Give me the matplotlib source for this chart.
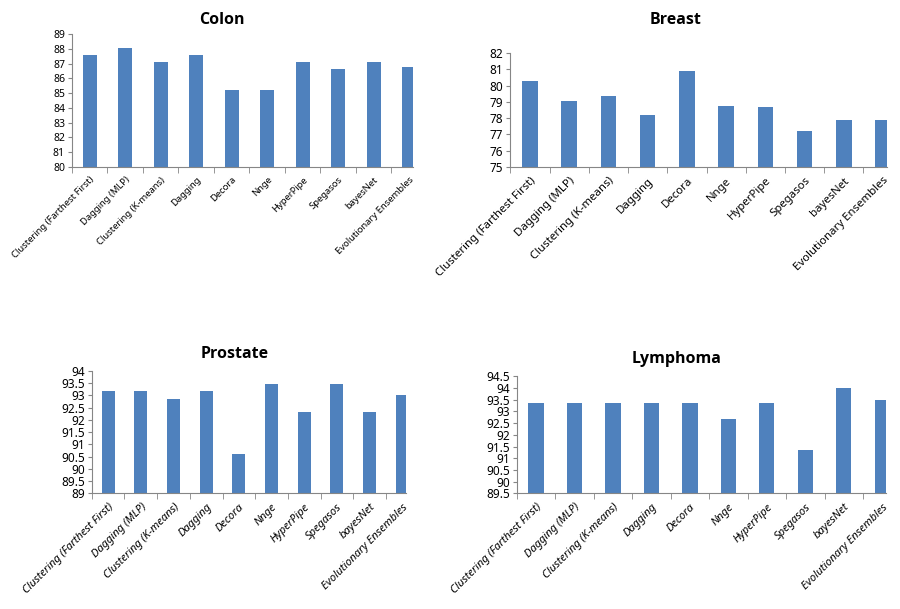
import numpy as np
import matplotlib.pyplot as plt
from matplotlib.ticker import MultipleLocator, FuncFormatter, FixedLocator

methods = ['Clustering (Farthest First)', 'Dagging (MLP)', 'Clustering (K-means)',
           'Dagging', 'Decora', 'Nnge', 'HyperPipe', 'Spegasos', 'bayesNet',
           'Evolutionary Ensembles']

colon = [87.6, 88.05, 87.1, 87.6, 85.2, 85.2, 87.1, 86.65, 87.1, 86.75]
breast = [80.3, 79.07, 79.38, 78.17, 80.9, 78.77, 78.68, 77.23, 77.85, 77.87]
prostate = [93.16, 93.16, 92.87, 93.16, 90.59, 93.45, 92.32, 93.45, 92.32, 93.01]
lymphoma = [93.34, 93.34, 93.34, 93.34, 93.34, 92.69, 93.34, 91.36, 93.99, 93.49]

BAR = '#4F81BD'
AXC = '#868686'

plt.rcParams['font.family'] = ['Noto Sans', 'DejaVu Sans']

fig = plt.figure(figsize=(9, 6.09), dpi=100)

# (name, values, axes rect, ylim, step, ytick size, xtick size, italic, title xy)
panels = [
    ('Colon', colon, [0.080, 0.726, 0.379, 0.218], (80, 89), 1, 7.5, 6.8, False, (222, 20)),
    ('Breast', breast, [0.567, 0.726, 0.419, 0.187], (75, 82), 1, 8.5, 8.2, False, (676, 20)),
    ('Prostate', prostate, [0.102, 0.190, 0.349, 0.201], (89, 94), 0.5, 8.5, 8, True, (235, 354)),
    ('Lymphoma', lymphoma, [0.574, 0.190, 0.411, 0.192], (89.5, 94.5), 0.5, 8.5, 8, True, (677, 359)),
]

x = np.arange(len(methods))
for name, vals, rect, ylim, step, ysz, xsz, ital, (tx, ty) in panels:
    ax = fig.add_axes(rect)
    ax.bar(x, np.array(vals) - ylim[0], bottom=ylim[0], width=0.4, color=BAR, zorder=2)
    ax.set_ylim(*ylim)
    ax.set_xlim(-0.5, 9.11)
    ax.yaxis.set_major_locator(MultipleLocator(step))
    ax.yaxis.set_major_formatter(FuncFormatter(lambda v, p: f'{v:g}'))
    ax.set_xticks(x)
    ax.set_xticklabels(methods, rotation=45, ha='right', rotation_mode='anchor',
                       fontsize=xsz, style='italic' if ital else 'normal')
    ax.xaxis.set_minor_locator(FixedLocator(np.arange(-0.5, 9.0, 1.0)))
    ax.tick_params(axis='x', which='major', length=0, pad=6)
    ax.tick_params(axis='x', which='minor', length=4, color=AXC, direction='out')
    ax.tick_params(axis='y', length=3, color=AXC, labelsize=ysz, pad=2)
    for s in ['top', 'right']:
        ax.spines[s].set_visible(False)
    for s in ['left', 'bottom']:
        ax.spines[s].set_color(AXC)
    fig.text(tx / 900, 1 - ty / 609, name, ha='center', va='center',
             fontsize=11.5, fontweight='bold', family=['Open Sans', 'DejaVu Sans'])

fig.savefig('out.png', dpi=100)
